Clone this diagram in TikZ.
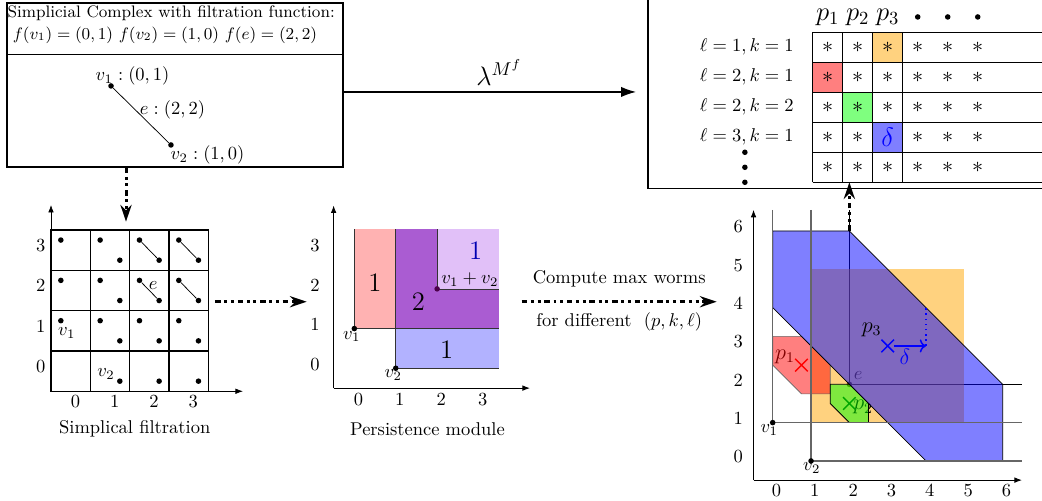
\documentclass[tikz,border=0pt]{standalone}
\usepackage{amsmath}
\usetikzlibrary{arrows.meta,shapes.misc}
\definecolor{wormorange}{RGB}{255,165,0}
\definecolor{pmred}{RGB}{255,178,178}
\definecolor{pmblue}{RGB}{178,178,255}
\definecolor{pmpurple}{RGB}{170,92,210}
\definecolor{pmlight}{RGB}{225,192,248}
\tikzset{
  vtx/.style={circle,fill,inner sep=0pt,minimum size=3pt},
  flow/.style={ultra thick,dash dot dot,-{Stealth[length=9pt,width=6pt]}},
  axis/.style={-{Latex[length=4pt,width=3pt]}},
  cross/.style={cross out,draw,thick,minimum size=6pt,inner sep=0pt},
  rowlab/.style={anchor=east,inner sep=0pt},
}
\begin{document}
\begin{tikzpicture}
\useasboundingbox (0,0) rectangle (19.795,9.517);
% simplicial complex
\node[draw,semithick,minimum width=6.383cm,minimum height=3.115cm,inner sep=0pt] (cx) at (3.3245,7.9025) {};
\draw[semithick] (cx.west |- 0,8.473) -- (cx.east |- 0,8.473);
\node[font=\small] (title) at (3.252,9.27) {Simplicial Complex with filtration function:};
\node[font=\small] (ffun) at (3.134,8.853) {$f(v_1)=(0,1)\ f(v_2)=(1,0)\ f(e)=(2,2)$};
\node[vtx] (sv1) at (2.109,7.884) {};
\node[vtx] (sv2) at (3.248,6.763) {};
\draw (sv1) -- (sv2);
\node (lv1) at (2.517,8.074) {$v_1:(0,1)$};
\node (le) at (3.277,7.428) {$e:(2,2)$};
\node (lv2) at (3.942,6.573) {$v_2:(1,0)$};
% worm table
\node[draw,semithick,anchor=south west,minimum width=8.2cm,minimum height=4.6cm,inner sep=0pt] (wb) at (12.30,5.927) {};
\coordinate (lamend) at (12.082,7.770);
\draw[semithick,-{Latex[length=8pt,width=5.5pt]}] (cx.east |- lamend) -- (lamend)
  node[midway,above,xshift=0.18cm,font=\Large] (lam) {$\lambda^{M^f}$};
\begin{scope}[shift={(15.439,6.054)},x=0.57cm,y=0.57cm]
\fill[wormorange,fill opacity=0.5] (2,4) rectangle (3,5);
\fill[red,fill opacity=0.5] (0,3) rectangle (1,4);
\fill[green,fill opacity=0.5] (1,2) rectangle (2,3);
\fill[blue,fill opacity=0.5] (2,1) rectangle (3,2);
\foreach \j in {0,...,5} \draw[thick] (0,\j) -- (8,\j);
\foreach \i in {0,...,3} \draw[thick] (\i,0) -- (\i,5);
\foreach \i in {0,...,5}
  \foreach \j in {0,2,3,4} \node[font=\large] (s\i\j) at (\i+0.5,\j+0.5) {$\ast$};
\foreach \i in {0,1,3,4,5} \node[font=\large] (s\i1) at (\i+0.5,1.5) {$\ast$};
\node[text=blue,font=\Large] (s21) at (2.5,1.5) {$\delta$};
\foreach \i in {1,2,3} \node[font=\Large] (hp\i) at (\i-0.5,5.51) {$p_\i$};
\foreach \i in {3,4,5} \node[vtx] (hd\i) at (\i+0.5,5.51) {};
\node[rowlab] (r4) at (-0.62,4.5) {$\ell=1,k=1$};
\node[rowlab] (r3) at (-0.62,3.5) {$\ell=2,k=1$};
\node[rowlab] (r2) at (-0.62,2.5) {$\ell=2,k=2$};
\node[rowlab] (r1) at (-0.62,1.5) {$\ell=3,k=1$};
\foreach \j in {0,0.5,1} \node[vtx] at (-2.26,\j) {};
\coordinate (tb) at (1.226,0);
\end{scope}
% simplicial filtration
\begin{scope}[shift={(0.969,2.084)},x=0.747cm,y=0.766cm]
\foreach \i in {0,...,3}
  \foreach \j in {0,...,3} \draw[thick] (\i,\j) rectangle +(1,1);
\foreach \i in {0,...,3}
  \foreach \j in {1,...,3} \node[vtx] (a\i\j) at (\i+0.25,\j+0.75) {};
\foreach \i in {1,...,3}
  \foreach \j in {0,...,3} \node[vtx] (b\i\j) at (\i+0.75,\j+0.25) {};
\foreach \i in {2,3}
  \foreach \j in {2,3} \draw (a\i\j) -- (b\i\j);
\node (fv1) at (0.40,1.44) {$v_1$};
\node (fv2) at (1.40,0.42) {$v_2$};
\node (fe) at (2.60,2.62) {$e$};
\draw[axis] (0,0) -- (4.88,0);
\draw[axis] (0,0) -- (0,4.62);
\foreach \i in {0,...,3} \node (fx\i) at (\i+0.62,-0.26) {\i};
\foreach \j in {0,...,3} \node (fy\j) at (-0.26,\j+0.62) {\j};
\end{scope}
\node (capf) at (2.559,1.368) {Simplical filtration};
\coordinate (ftop) at (2.394,5.306);
\draw[flow] (cx.south -| ftop) -- (ftop);
% persistence module
\begin{scope}[shift={(6.731,2.521)},x=0.7865cm,y=0.754cm]
\fill[pmred] (0,1) rectangle (1,3.5);
\fill[pmpurple] (1,1) rectangle (3.5,2);
\fill[pmpurple] (1,2) rectangle (2,3.5);
\fill[pmlight] (2,2) rectangle (3.5,3.5);
\fill[pmblue] (1,0) rectangle (3.5,1);
\draw[axis] (-0.5,-0.5) -- (4.24,-0.5);
\draw[axis] (-0.5,-0.5) -- (-0.5,4.1);
\draw[black!80] (0,3.5) -- (0,1) -- (3.5,1);
\draw[black!80] (1,3.5) -- (1,0) -- (3.5,0);
\draw[black!80] (2,3.5) -- (2,2) -- (3.5,2);
\node[vtx] (mv1) at (0,1) {};
\node[vtx] (mv2) at (1,0) {};
\node[vtx,fill=violet!60!black] (mv12) at (2,2) {};
\node (lmv1) at (-0.06,0.80) {$v_1$};
\node (lmv2) at (0.94,-0.17) {$v_2$};
\node (lmv12) at (2.79,2.24) {$v_1+v_2$};
\node[font=\Large] (n1) at (0.5,2.16) {1};
\node[font=\Large] (n2) at (1.55,1.67) {2};
\node[font=\Large,text=blue!70!black] (n3) at (2.93,2.96) {1};
\node[font=\Large] (n4) at (2.23,0.46) {1};
\foreach \i in {0,...,3} \node (mx\i) at (\i+0.1,-0.78) {\i};
\foreach \j in {0,...,3} \node (my\j) at (-0.95,\j+0.1) {\j};
\end{scope}
\node (capm) at (8.121,1.362) {Persistence module};
\coordinate (f2a) at (4.084,3.785);
\coordinate (f2b) at (5.826,3.785);
\draw[flow] (f2a) -- (f2b);
\coordinate (f3a) at (9.911,3.785);
\coordinate (f3b) at (13.615,3.785);
\draw[flow] (f3a) -- (f3b)
  node[midway,yshift=0.445cm] (cmw) {Compute max worms}
  node[midway,yshift=-0.379cm] (cfd) {for different $\ (p,k,\ell)$};
% max worms
\begin{scope}[shift={(14.679,0.760)},x=0.7282cm,y=0.7282cm]
\draw[axis] (-0.5,-0.5) -- (6.5,-0.5);
\draw[axis] (-0.5,-0.5) -- (-0.5,6.55);
\draw (2,6.55) -- (2,2) -- (6.5,2);
\node[vtx] (we) at (2,2) {};
\node (wel) at (2.23,2.24) {$e$};
\fill[wormorange,fill opacity=0.5] (1,1) rectangle (5,5);
\node[font=\large] (lp1) at (0.32,2.72) {$p_1$};
\filldraw[fill=red,fill opacity=0.5,draw=black!60] (0,3.25) -- (0.75,3.25) -- (1.5,2.5) -- (1.5,1.75) -- (0.75,1.75) -- (0,2.5) -- cycle;
\node[cross,red] (p1) at (0.75,2.5) {};
\node[font=\large] (lp2) at (2.36,1.4) {$p_2$};
\filldraw[fill=green,fill opacity=0.5,draw=black] (1.5,2) -- (2,2) -- (2.5,1.5) -- (2.5,1) -- (2,1) -- (1.5,1.5) -- cycle;
\node[cross,green!65!black] (p2) at (2,1.5) {};
\filldraw[fill=blue,fill opacity=0.5,draw=black] (0,4) -- (0,6) -- (2,6) -- (6,2) -- (6,0) -- (4,0) -- cycle;
\draw[black!60,thick] (0,6.55) -- (0,1) -- (6.5,1);
\draw[black!60,thick] (1,6.55) -- (1,0) -- (6.5,0);
\node[vtx] (wv1) at (0,1) {};
\node[vtx] (wv2) at (1,0) {};
\node (lwv1) at (-0.09,0.81) {$v_1$};
\node (lwv2) at (1.02,-0.19) {$v_2$};
\node[font=\large] (lp3) at (2.58,3.42) {$p_3$};
\node[cross,blue] (p3) at (3,3) {};
\coordinate (d3) at (4,3);
\draw[blue,thick,->] (p3) -- (d3);
\node[text=blue,font=\large] (ld) at (3.45,2.72) {$\delta$};
\draw[blue,thick,dotted] (d3) -- (4,4);
\coordinate (wtop) at (2,6);
\foreach \i in {0,...,6} \node (wx\i) at (\i+0.1,-0.76) {\i};
\foreach \j in {0,...,6} \node (wy\j) at (-0.9,\j+0.11) {\j};
\end{scope}
\draw[flow] (wtop) -- (wtop |- tb);
\end{tikzpicture}
\end{document}
